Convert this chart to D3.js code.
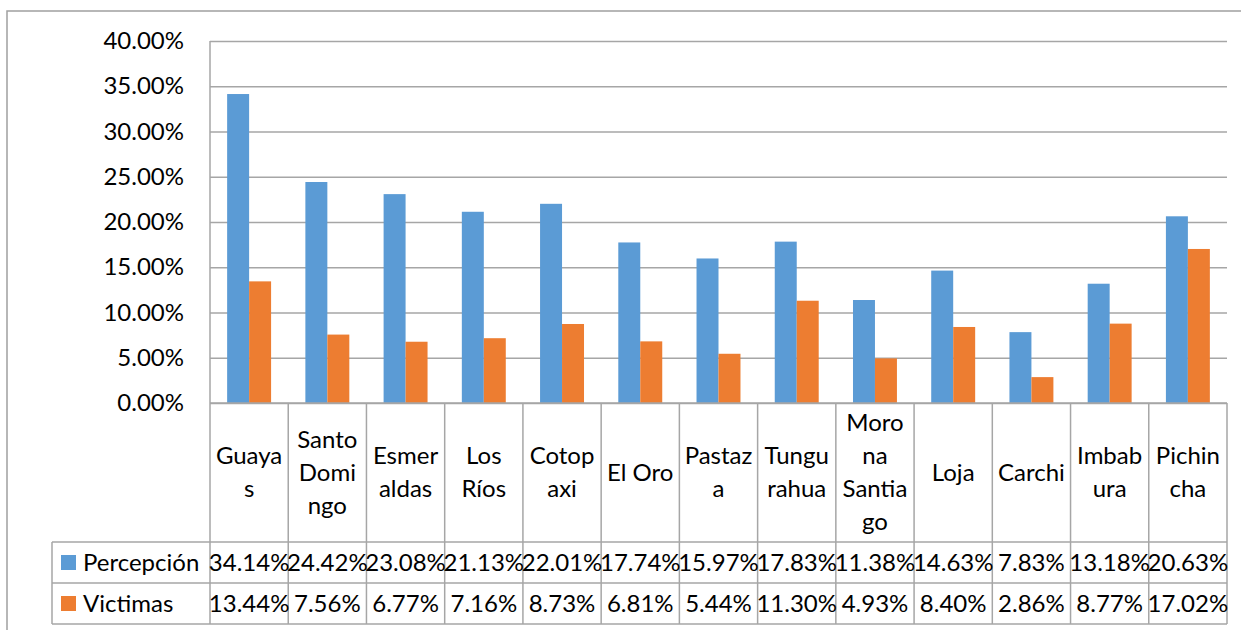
<!DOCTYPE html>
<html>
<head>
<meta charset="utf-8">
<script src="https://cdn.jsdelivr.net/npm/d3@7"></script>
<style>
  body { margin: 0; background: #fff; }
  text { font-family: Lato, 'Open Sans', sans-serif; fill: #000; }
</style>
</head>
<body>
<div id="chart"></div>
<script>
// data
const categories = ['Guayas', 'Santo Domingo', 'Esmeraldas', 'Los Ríos', 'Cotopaxi', 'El Oro', 'Pastaza', 'Tungurahua', 'Morona Santiago', 'Loja', 'Carchi', 'Imbabura', 'Pichincha']
const categoryLines = [['Guaya', 's'], ['Santo', 'Domi', 'ngo'], ['Esmer', 'aldas'], ['Los', 'Ríos'], ['Cotop', 'axi'], ['El Oro'], ['Pastaz', 'a'], ['Tungu', 'rahua'], ['Moro', 'na', 'Santia', 'go'], ['Loja'], ['Carchi'], ['Imbab', 'ura'], ['Pichin', 'cha']]
const seriesNames = ['Percepción', 'Victimas']
const percepcion = [34.14, 24.42, 23.08, 21.13, 22.01, 17.74, 15.97, 17.83, 11.38, 14.63, 7.83, 13.18, 20.63]
const victimas = [13.44, 7.56, 6.77, 7.16, 8.73, 6.81, 5.44, 11.30, 4.93, 8.40, 2.86, 8.77, 17.02]
const yTicks = [0, 5, 10, 15, 20, 25, 30, 35, 40]
const colors = ['#5B9BD5', '#ED7D31']

const W = 1241
const H = 630
const plot = { left: 210, right: 1227, top: 41, bottom: 403 }
const catRowBottom = 542
const rowH = 41
const legendLeft = 52
const gridColor = '#a6a6a6'
const fontSize = 24

const svg = d3
  .select('#chart')
  .append('svg')
  .attr('width', W)
  .attr('height', H)

const series = [percepcion, victimas]

/// Scales////////////////////////////////
const xScale = d3.scaleBand().domain(categories).range([plot.left, plot.right])
const xInner = d3
  .scaleBand()
  .domain(seriesNames)
  .range([0, xScale.bandwidth()])
  .paddingInner(0)
  .paddingOuter(0.78)
const yScale = d3.scaleLinear().domain([0, 40]).range([plot.bottom, plot.top])

// outer chart frame
svg
  .append('rect')
  .attr('x', 7)
  .attr('y', 11)
  .attr('width', W + 20)
  .attr('height', H + 20)
  .attr('fill', 'none')
  .attr('stroke', '#a0a0a0')
  .attr('stroke-width', 1.5)

// y axis + gridlines
const yAxis = svg
  .append('g')
  .attr('transform', 'translate(' + plot.left + ',0)')
  .call(
    d3
      .axisLeft(yScale)
      .tickValues(yTicks)
      .tickSizeInner(-(plot.right - plot.left))
      .tickSizeOuter(0)
      .tickPadding(26)
      .tickFormat(d => d.toFixed(2) + '%')
  )
yAxis.select('.domain').remove()
yAxis
  .selectAll('.tick line')
  .attr('stroke', gridColor)
  .attr('stroke-width', 1.5)
yAxis
  .selectAll('.tick text')
  .attr('font-size', fontSize)
  .attr('font-family', 'Lato')
  .attr('fill', '#000')

// bars
const groups = svg
  .append('g')
  .selectAll('g')
  .data(categories)
  .join('g')
  .attr('transform', d => 'translate(' + xScale(d) + ',0)')

groups
  .selectAll('rect')
  .data((d, i) => seriesNames.map((s, j) => ({ s, v: series[j][i], c: colors[j] })))
  .join('rect')
  .attr('x', d => xInner(d.s))
  .attr('width', xInner.bandwidth())
  .attr('y', d => yScale(d.v))
  .attr('height', d => yScale(0) - yScale(d.v))
  .attr('fill', d => d.c)

/// data table ////////////////////////////////
const table = svg.append('g').attr('stroke', gridColor).attr('stroke-width', 1.5)

// vertical lines of the category columns
table
  .selectAll('.vline')
  .data(categories.map(c => xScale(c)).concat([plot.right]))
  .join('line')
  .attr('x1', d => d)
  .attr('x2', d => d)
  .attr('y1', (d, i) => (i === 0 ? plot.top : plot.bottom))
  .attr('y2', catRowBottom + 2 * rowH)

// horizontal lines
const hRows = [catRowBottom, catRowBottom + rowH, catRowBottom + 2 * rowH]
table
  .selectAll('.hline')
  .data(hRows)
  .join('line')
  .attr('x1', legendLeft)
  .attr('x2', plot.right)
  .attr('y1', d => d)
  .attr('y2', d => d)

table
  .append('line')
  .attr('x1', legendLeft)
  .attr('x2', legendLeft)
  .attr('y1', catRowBottom)
  .attr('y2', catRowBottom + 2 * rowH)

table
  .append('line')
  .attr('x1', plot.left)
  .attr('x2', plot.right)
  .attr('y1', plot.bottom)
  .attr('y2', plot.bottom)

// category labels (wrapped as in the original)
const lineH = 33
const catMid = (plot.bottom + catRowBottom) / 2
svg
  .append('g')
  .selectAll('text')
  .data(categories)
  .join('text')
  .attr('x', d => xScale(d) + xScale.bandwidth() / 2)
  .attr('text-anchor', 'middle')
  .attr('font-size', fontSize)
  .each(function(d, i) {
    const lines = categoryLines[i]
    const y0 = catMid - ((lines.length - 1) * lineH) / 2
    d3.select(this)
      .selectAll('tspan')
      .data(lines)
      .join('tspan')
      .attr('x', xScale(d) + xScale.bandwidth() / 2)
      .attr('y', (l, k) => y0 + k * lineH)
      .attr('dy', '0.35em')
      .text(l => l)
  })

// value rows
seriesNames.forEach((s, j) => {
  const yMid = catRowBottom + rowH * j + rowH / 2

  svg
    .append('rect')
    .attr('x', 61)
    .attr('y', yMid - 7.5)
    .attr('width', 15)
    .attr('height', 15)
    .attr('fill', colors[j])

  svg
    .append('text')
    .attr('x', 83)
    .attr('y', yMid)
    .attr('dy', '0.35em')
    .attr('font-size', fontSize)
    .text(s)

  svg
    .append('g')
    .selectAll('text')
    .data(series[j])
    .join('text')
    .attr('x', (d, i) => xScale(categories[i]) + xScale.bandwidth() / 2)
    .attr('y', yMid)
    .attr('dy', '0.35em')
    .attr('text-anchor', 'middle')
    .attr('font-size', fontSize)
    .text(d => d.toFixed(2) + '%')
})
</script>
</body>
</html>
